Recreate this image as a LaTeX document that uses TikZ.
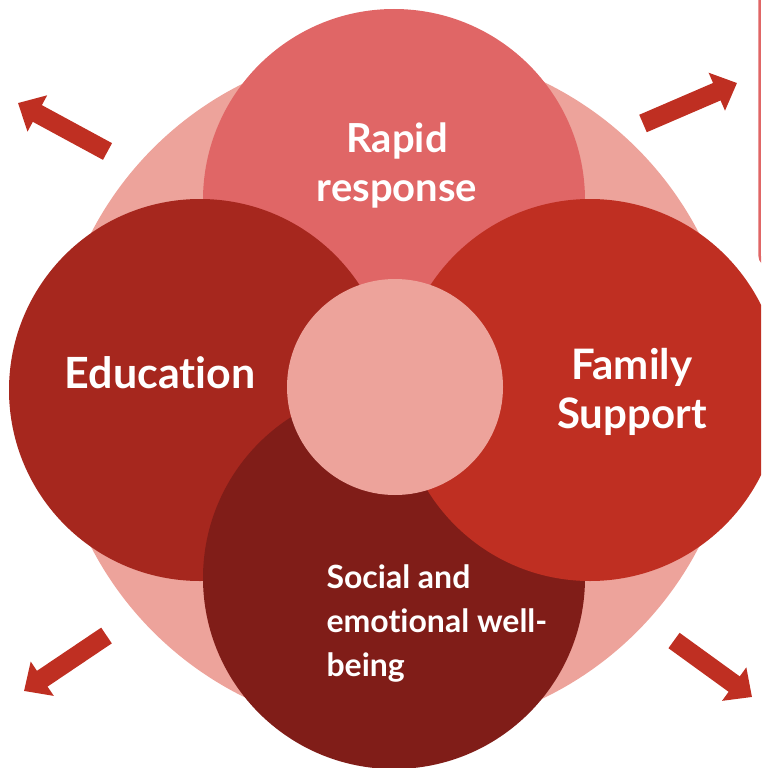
\documentclass[tikz,border=0pt]{standalone}
\usepackage{fontspec}
\setmainfont{Lato}[Ligatures=NoCommon]
\usepackage{tikz}
\usetikzlibrary{arrows.meta}
\definecolor{blush}{HTML}{EDA39B}
\definecolor{rapidred}{HTML}{E06666}
\definecolor{edured}{HTML}{A6271E}
\definecolor{famred}{HTML}{BF2F22}
\definecolor{socred}{HTML}{801D18}

\begin{document}
\begin{tikzpicture}[x=1pt, y=-1pt,
  petal/.style={circle, inner sep=0pt, minimum size=382pt},
  petaltext/.style 2 args={text=white, font=\bfseries\fontsize{#1}{#2}\selectfont},
  bigarrow/.style={famred, line width=19pt, -{Triangle[width=40pt,length=22pt]}}]
  \clip (0,0) rectangle (761,768);
  \useasboundingbox (0,0) rectangle (761,768);
  \draw[rapidred, line width=2.5pt, rounded corners=12pt] (759.5,-20) rectangle (830,267);

  \node[petal, fill=blush, minimum size=684pt] (rim) at (395,390) {};
  \node[petal, fill=rapidred] (rapid) at (394,200) {};
  \node[petal, fill=edured] (edu) at (200,390) {};
  \node[petal, fill=socred] (social) at (394,578) {};
  \node[petal, fill=famred] (family) at (590,390) {};
  \node[circle, inner sep=0pt, minimum size=216pt, fill=blush] (hub) at (395,387) {};

  \node[petaltext={40}{49}, align=center] (rapid-txt) at (397,165) {Rapid\\response};
  \node[petaltext={43}{49}] (edu-txt) at (160,373) {Education};
  \node[petaltext={42}{49}, align=center] (family-txt) at (632,392) {Family\\Support};
  \node[petaltext={32}{44}, align=left, anchor=west] (social-txt) at (323,623) {Social and\\emotional well-\\being};

  \coordinate (tr-tail) at (643,123.5);
  \coordinate (tr-tip) at (737,83);
  \coordinate (tl-tail) at (107.5,151.5);
  \coordinate (tl-tip) at (18,103);
  \coordinate (bl-tail) at (106.5,635.5);
  \coordinate (bl-tip) at (24,691);
  \coordinate (br-tail) at (674,640.5);
  \coordinate (br-tip) at (752,697);
  \path[bigarrow]
  (tr-tail) edge (tr-tip)
  (tl-tail) edge (tl-tip)
  (bl-tail) edge (bl-tip)
  (br-tail) edge (br-tip);
\end{tikzpicture}
\end{document}
